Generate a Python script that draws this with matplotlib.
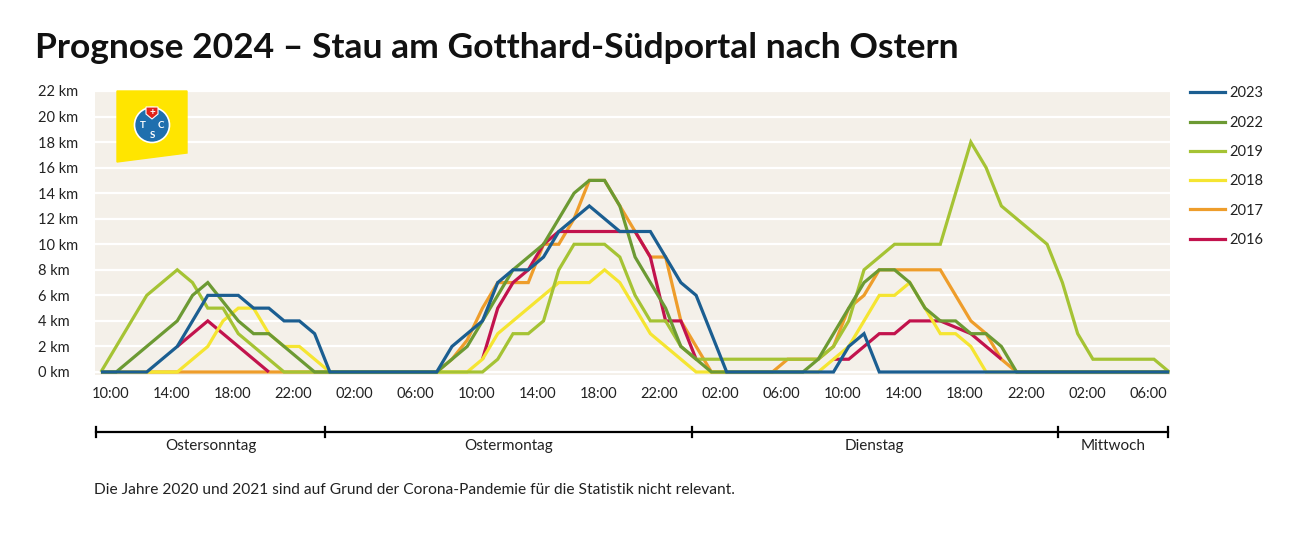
import numpy as np
import matplotlib.pyplot as plt
from matplotlib.lines import Line2D
from matplotlib.patches import Polygon, Ellipse

plt.rcParams['font.family'] = ['Lato', 'DejaVu Sans']

# hourly values, index 0 = Ostersonntag 09:00 ... index 70 = Mittwoch 07:00
hours = np.arange(71)
nan = np.nan

stau_2023 = [0, 0, 0, 0, 1, 2, 4, 6, 6, 6, 5, 5, 4, 4, 3, 0, 0, 0, 0, 0,
             0, 0, 0, 2, 3, 4, 7, 8, 8, 9, 11, 12, 13, 12, 11, 11, 11, 9, 7, 6,
             3, 0, 0, 0, 0, 0, 0, 0, 0, 2, 3, 0, 0, 0, 0, 0, 0, 0, 0, 0,
             0, 0, 0, 0, 0, 0, 0, 0, 0, 0, 0]
stau_2022 = [0, 0, 1, 2, 3, 4, 6, 7, 5.5, 4, 3, 3, 2, 1, 0, 0, 0, 0, 0, 0,
             0, 0, 0, 1, 2, 4, 6, 8, 9, 10, 12, 14, 15, 15, 13, 9, 7, 5, 2, 1,
             0, 0, 0, 0, 0, 0, 0, 1, 3, 5, 7, 8, 8, 7, 5, 4, 4, 3, 3, 2,
             0, 0, 0, 0, 0, 0, 0, 0, 0, 0, 0]
stau_2019 = [0, 2, 4, 6, 7, 8, 7, 5, 5, 3, 2, 1, 0, 0, 0, 0, 0, 0, 0, 0,
             0, 0, 0, 0, 0, 0, 1, 3, 3, 4, 8, 10, 10, 10, 9, 6, 4, 4, 2, 1,
             1, 1, 1, 1, 1, 1, 1, 1, 2, 4, 8, 9, 10, 10, 10, 10, 14, 18, 16, 13,
             12, 11, 10, 7, 3, 1, 1, 1, 1, 1, 0]
stau_2018 = [0, 0, 0, 0, 0, 0, 1, 2, 4, 5, 5, 3, 2, 2, 1, 0, 0, 0, 0, 0,
             0, 0, 0, 0, 0, 1, 3, 4, 5, 6, 7, 7, 7, 8, 7, 5, 3, 2, 1, 0,
             0, 0, 0, 0, 0, 0, 0, 0, 1, 2, 4, 6, 6, 7, 5, 3, 3, 2, 0, 0,
             0, 0, 0, 0, 0, 0, 0, 0, 0, 0, 0]
stau_2017 = [0, 0, 0, 0, 0, 0, 0, 0, 0, 0, 0, 0, 0, 0, 0, 0, 0, 0, 0, 0,
             0, 0, 0, 1, 2.5, 5, 7, 7, 7, 10, 10, 12, 15, 15, 13, 11, 9, 9, 4, 2,
             0, 0, 0, 0, 0, 1, 1, 1, 2, 5, 6, 8, 8, 8, 8, 8, 6, 4, 3, 1,
             0, 0, 0, 0, 0, 0, 0, 0, 0, 0, 0]
stau_2016 = [nan, nan, nan, nan, nan, 2, 3, 4, 3, 2, 1, 0, nan, nan, nan, nan, nan, nan, nan, nan,
             nan, nan, nan, nan, nan, 1, 5, 7, 8, 10, 11, 11, 11, 11, 11, 11, 9, 4, 4, 1,
             nan, nan, nan, nan, nan, nan, nan, nan, 1, 1, 2, 3, 3, 4, 4, 4, 3.5, 3, 2, 1,
             nan, nan, nan, nan, nan, nan, nan, nan, nan, nan, nan]

years = ['2023', '2022', '2019', '2018', '2017', '2016']
series = [stau_2023, stau_2022, stau_2019, stau_2018, stau_2017, stau_2016]
colors = ['#1b5e91', '#6c9a33', '#a5c334', '#f5e531', '#ee9d2b', '#c2134d']
zorders = [8, 7, 6, 5, 3, 4]

tick_hours = np.arange(1, 70, 4)
tick_labels = ['10:00', '14:00', '18:00', '22:00', '02:00', '06:00'] * 3
day_names = ['Ostersonntag', 'Ostermontag', 'Dienstag', 'Mittwoch']
midnights = [15, 39, 63]

W, H = 1290, 541
fig = plt.figure(figsize=(W / 100, H / 100), dpi=100)


def fx(px):
    return px / W


def fy(py):
    return 1 - py / H


ax = fig.add_axes([fx(95), fy(375), (1170 - 95) / W, (375 - 91) / H])
ax.set_facecolor('#f4f0e9')
for s in ax.spines.values():
    s.set_visible(False)

for vals, c, z, lab in zip(series, colors, zorders, years):
    ax.plot(hours, vals, color=c, lw=2.3, zorder=z, label=lab,
            solid_joinstyle='miter', solid_capstyle='butt')

ax.set_xlim(-0.39, 70.05)
ax.set_ylim(-0.235, 22)
ax.set_yticks(range(0, 23, 2))
ax.set_yticklabels([f'{v} km' for v in range(0, 23, 2)])
ax.grid(axis='y', color='white', lw=1.6)
ax.set_axisbelow(True)
ax.tick_params(axis='y', length=0, pad=41, labelsize=10.5, colors='#222222')
for t in ax.get_yticklabels():
    t.set_ha('left')
ax.set_xticks(tick_hours - 0.4)
ax.set_xticklabels(tick_labels)
ax.tick_params(axis='x', length=0, pad=9, labelsize=10.5, colors='#222222')

# day brackets below the axis
trans = ax.get_xaxis_transform()
edges = [-0.35] + [m - 0.3 for m in midnights] + [69.95]
ax.plot([edges[0], edges[-1]], [-0.2, -0.2], color='black', lw=1.6,
        transform=trans, clip_on=False)
for e in edges:
    ax.plot([e, e], [-0.183, -0.217], color='black', lw=1.6,
            transform=trans, clip_on=False)
for a, b, name in zip(edges[:-1], edges[1:], day_names):
    ax.text((a + b) / 2, -0.25, name, transform=trans, ha='center', va='center',
            fontsize=11, color='#222222')

# legend
handles = [Line2D([], [], color=c, lw=2.3) for c in colors]
fig.legend(handles, years, loc='upper left', bbox_to_anchor=(fx(1183), fy(79)),
           frameon=False, fontsize=10.5, handlelength=2.4, handletextpad=0.3,
           labelspacing=1.05, borderpad=0, labelcolor='#222222')

# title and note
fig.text(fx(35), fy(48), 'Prognose 2024 – Stau am Gotthard-Südportal nach Ostern',
         fontsize=25.5, fontweight='bold', va='center', ha='left', color='#111111')
fig.text(fx(94), fy(490), 'Die Jahre 2020 und 2021 sind auf Grund der Corona-Pandemie '
         'für die Statistik nicht relevant.', fontsize=11.2, va='center', ha='left',
         color='#222222')

# TCS logo
fig.add_artist(Polygon([(fx(117), fy(91)), (fx(187), fy(91)), (fx(187), fy(153)),
                        (fx(117), fy(162))], closed=True, color='#ffe500',
                       transform=fig.transFigure, zorder=10))
fig.add_artist(Ellipse((fx(152), fy(125)), 35 / W, 35 / H, facecolor='#1f6fae',
                       edgecolor='white', lw=1.2, transform=fig.transFigure, zorder=11))
for (px, py), l in zip([(143, 125), (161, 125), (152, 135)], ['T', 'C', 'S']):
    fig.text(fx(px), fy(py), l, color='white', fontsize=7, fontweight='bold',
             ha='center', va='center', zorder=12)
fig.add_artist(Polygon([(fx(146), fy(107)), (fx(158), fy(107)), (fx(158), fy(114)),
                        (fx(152), fy(119)), (fx(146), fy(114))], closed=True,
                       facecolor='#e2231a', edgecolor='white', lw=0.8,
                       transform=fig.transFigure, zorder=12))
fig.text(fx(152), fy(112), '+', color='white', fontsize=7, fontweight='bold',
         ha='center', va='center', zorder=13)

fig.savefig('out.png', dpi=100)
